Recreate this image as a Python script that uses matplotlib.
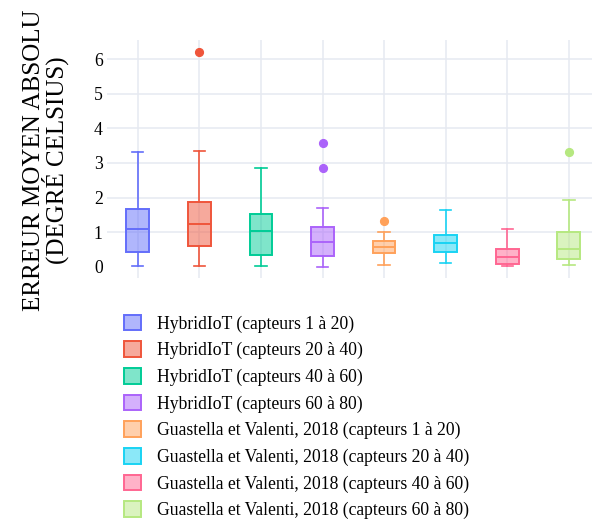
import matplotlib
matplotlib.use("Agg")
import matplotlib.pyplot as plt
from matplotlib.patches import Patch

plt.rcParams['font.family'] = ['Liberation Serif', 'DejaVu Serif']

# series labels and colours
labels = [
    "HybridIoT (capteurs 1 à 20)",
    "HybridIoT (capteurs 20 à 40)",
    "HybridIoT (capteurs 40 à 60)",
    "HybridIoT (capteurs 60 à 80)",
    "Guastella et Valenti, 2018 (capteurs 1 à 20)",
    "Guastella et Valenti, 2018 (capteurs 20 à 40)",
    "Guastella et Valenti, 2018 (capteurs 40 à 60)",
    "Guastella et Valenti, 2018 (capteurs 60 à 80)",
]
colors = ['#636efa', '#EF553B', '#00cc96', '#ab63fa',
          '#FFA15A', '#19d3f3', '#FF6692', '#B6E880']

# box statistics
whislo = [0.02, 0.02, 0.03, 0.00, 0.04, 0.09, 0.02, 0.06]
q1 = [0.42, 0.61, 0.33, 0.30, 0.40, 0.42, 0.07, 0.22]
med = [1.08, 1.24, 1.03, 0.72, 0.57, 0.67, 0.29, 0.52]
q3 = [1.67, 1.86, 1.53, 1.15, 0.75, 0.92, 0.51, 1.00]
whishi = [3.32, 3.34, 2.84, 1.69, 0.99, 1.64, 1.09, 1.93]
fliers = [[], [6.22], [], [3.58, 2.86], [1.32], [], [], [3.32]]

fig = plt.figure(figsize=(5.92, 5.25), dpi=100)
ax = fig.add_axes([107 / 592, 1 - 278 / 525, 492.6 / 592, 238 / 525])

for i in range(len(labels)):
    stats = [dict(whislo=whislo[i], q1=q1[i], med=med[i], q3=q3[i],
                  whishi=whishi[i], fliers=fliers[i])]
    c = colors[i]
    ax.bxp(stats, positions=[i], widths=0.37, capwidths=0.185,
           patch_artist=True, manage_ticks=False,
           boxprops=dict(facecolor=matplotlib.colors.to_rgba(c, 0.5),
                         edgecolor=c, linewidth=1.4),
           medianprops=dict(color=c, linewidth=1.4),
           whiskerprops=dict(color=c, linewidth=1.2),
           capprops=dict(color=c, linewidth=1.2),
           flierprops=dict(marker='o', markerfacecolor=c, markeredgecolor=c,
                           markersize=5.6, linestyle='none'))

ax.set_xlim(-0.5, 7.5)
ax.set_ylim(-0.33, 6.56)
ax.set_xticks(range(len(labels)))
ax.set_xticklabels([])
ax.set_yticks(range(0, 7))
ax.tick_params(length=0, labelsize=12.7, pad=3)
for s in ax.spines.values():
    s.set_visible(False)
ax.set_axisbelow(True)
ax.grid(True, color='#e6eaf1', linewidth=1.1)
ax.yaxis.get_gridlines()[0].set_visible(False)

# two-line y title
fig.text(46 / 592, 1 - 160 / 525, "ERREUR MOYEN ABSOLU\n(DEGRÉ CELSIUS)",
         rotation=90, ha='center', va='center', multialignment='center',
         fontsize=18, linespacing=0.82)

handles = [Patch(facecolor=matplotlib.colors.to_rgba(c, 0.5), edgecolor=c,
                 linewidth=1.4) for c in colors]
fig.legend(handles, labels, loc='upper left',
           bbox_to_anchor=(115 / 592, 1 - 306 / 525), frameon=False,
           fontsize=12.7, handlelength=0.97, handleheight=0.97,
           handletextpad=0.92, labelspacing=0.5, borderpad=0)

fig.savefig("out.png", dpi=100)
